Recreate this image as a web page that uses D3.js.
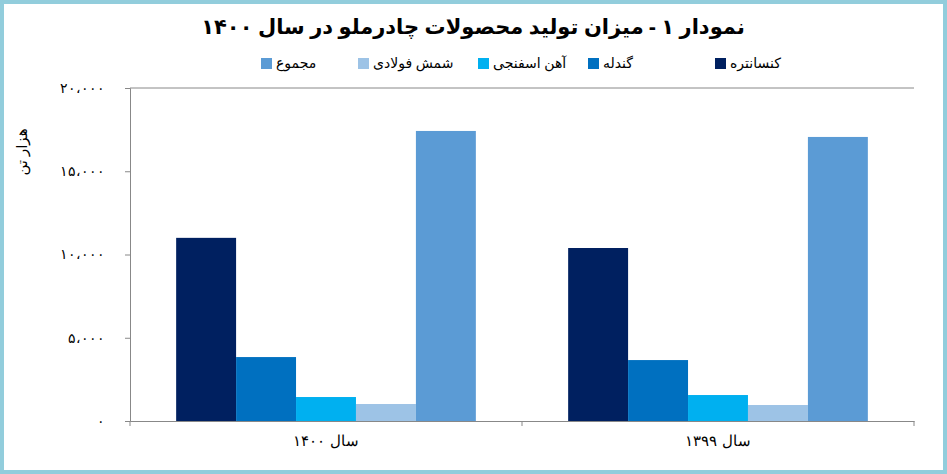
<!DOCTYPE html>
<html><head><meta charset="utf-8">
<script src="https://cdn.jsdelivr.net/npm/d3@7"></script>
<style>body{margin:0;background:#fff}svg{display:block;font-family:"Noto Sans","DejaVu Sans",sans-serif}</style>
</head><body><svg id="c" width="947" height="474"></svg>
<script>
const categories = ["سال ۱۴۰۰", "سال ۱۳۹۹"];
const seriesNames = ["کنسانتره", "گندله", "آهن اسفنجی", "شمش فولادی", "مجموع"];
const colors = ["#002060", "#0070C0", "#00B0F0", "#9DC3E6", "#5B9BD5"];
const values1400 = [11000, 3840, 1440, 1020, 17420];
const values1399 = [10390, 3660, 1560, 960, 17060];
const yTicks = [0, 5000, 10000, 15000, 20000];
const data = [values1400, values1399];

const svg = d3.select("#c");
svg.append("rect").attr("x",2).attr("y",2).attr("width",943).attr("height",470)
  .attr("fill","#fff").attr("stroke","#92CDDC").attr("stroke-width",4);

const L=130,R=914,T=88,B=421;
const x0=d3.scaleBand().domain(categories).range([L,R]);
const x1=d3.scaleBand().domain(d3.range(5)).range([0,x0.bandwidth()]).paddingOuter(0.77).paddingInner(0);
const y=d3.scaleLinear().domain([0,20000]).range([B,T]);
const fa=s=>s.replace(/\d/g,d=>"۰۱۲۳۴۵۶۷۸۹"[d]).replace(/,/g,"،");

svg.append("text").attr("x",473).attr("y",34).attr("text-anchor","middle")
  .attr("font-size",21).attr("font-weight","bold").attr("fill","#000")
  .text("نمودار ۱ - میزان تولید محصولات چادرملو در سال ۱۴۰۰");

// legend
const legX=[712,585,475,355,258];
seriesNames.forEach((n,i)=>{
  const g=svg.append("g");
  g.append("rect").attr("x",legX[i]+3).attr("y",58).attr("width",11).attr("height",11).attr("fill",colors[i]);
  g.append("text").attr("x",legX[i]+18).attr("y",68).attr("font-size",14).attr("fill","#000").attr("direction","ltr").text(n);
});

// top gridline & axes
svg.append("line").attr("x1",L).attr("x2",R).attr("y1",y(20000)).attr("y2",y(20000)).attr("stroke","#888");
const yAxis=d3.axisLeft(y).tickValues(yTicks).tickSize(5).tickFormat(d=>fa(d3.format(",")(d)));
const ga=svg.append("g").attr("transform",`translate(${L},0)`).call(yAxis);
ga.select(".domain").attr("stroke","#888");
ga.selectAll(".tick line").attr("stroke","#888");
ga.selectAll(".tick text").attr("x",-25).attr("font-size",14).attr("fill","#000");

const xAxis=d3.axisBottom(x0).tickSize(0);
const gx=svg.append("g").attr("transform",`translate(0,${B})`).call(xAxis);
gx.select(".domain").attr("stroke","#888");
gx.selectAll(".tick text").attr("dy",22).attr("font-size",15).attr("fill","#000");
[L, x0.range()[0]+x0.step(), R].forEach(v=>svg.append("line").attr("x1",v).attr("x2",v).attr("y1",B).attr("y2",B+5).attr("stroke","#888"));

svg.append("text").attr("transform","translate(27,152) rotate(-90)").attr("text-anchor","middle")
  .attr("font-size",15).attr("fill","#000").text("هزار تن");

data.forEach((vals,gi)=>{
  svg.append("g").selectAll("rect").data(vals).join("rect")
    .attr("x",(d,i)=>x0(categories[gi])+x1(i)).attr("width",x1.bandwidth())
    .attr("y",d=>y(d)).attr("height",d=>B-y(d)).attr("fill",(d,i)=>colors[i]);
});
</script></body></html>
